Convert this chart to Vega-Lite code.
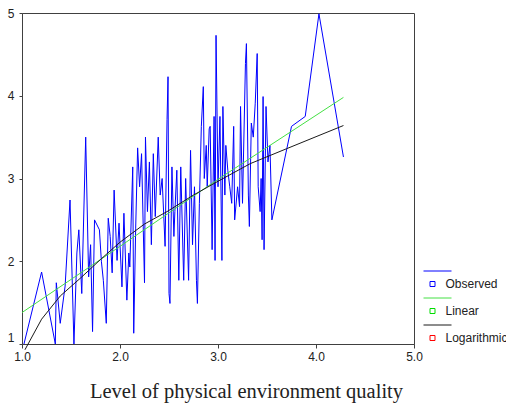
{
  "$schema": "https://vega.github.io/schema/vega-lite/v6.json",
  "width": 392,
  "height": 331,
  "autosize": "none",
  "padding": {"left": 22, "top": 13, "right": 92, "bottom": 64},
  "background": "white",
  "config": {
    "view": {"stroke": "#404040", "strokeWidth": 1},
    "axis": {"grid": false, "domainColor": "#404040", "tickColor": "#404040", "labelFont": "Liberation Sans", "labelFontSize": 12, "labelColor": "#222222"},
    "legend": {"labelFont": "Liberation Sans", "labelFontSize": 12, "labelColor": "#222222", "padding": 0, "offset": 0}
  },
  "datasets": {
    "observed": [
      {"x": 1.02, "y": 1.0, "series": "Observed"},
      {"x": 1.2, "y": 1.87, "series": "Observed"},
      {"x": 1.34, "y": 1.0, "series": "Observed"},
      {"x": 1.35, "y": 1.74, "series": "Observed"},
      {"x": 1.39, "y": 1.25, "series": "Observed"},
      {"x": 1.44, "y": 1.7, "series": "Observed"},
      {"x": 1.49, "y": 2.74, "series": "Observed"},
      {"x": 1.53, "y": 1.0, "series": "Observed"},
      {"x": 1.56, "y": 2.1, "series": "Observed"},
      {"x": 1.58, "y": 2.38, "series": "Observed"},
      {"x": 1.61, "y": 1.61, "series": "Observed"},
      {"x": 1.65, "y": 3.5, "series": "Observed"},
      {"x": 1.68, "y": 1.81, "series": "Observed"},
      {"x": 1.7, "y": 2.2, "series": "Observed"},
      {"x": 1.72, "y": 1.15, "series": "Observed"},
      {"x": 1.74, "y": 2.5, "series": "Observed"},
      {"x": 1.79, "y": 2.38, "series": "Observed"},
      {"x": 1.81, "y": 2.0, "series": "Observed"},
      {"x": 1.83, "y": 1.77, "series": "Observed"},
      {"x": 1.86, "y": 1.25, "series": "Observed"},
      {"x": 1.88, "y": 2.52, "series": "Observed"},
      {"x": 1.9, "y": 2.3, "series": "Observed"},
      {"x": 1.92, "y": 1.86, "series": "Observed"},
      {"x": 1.94, "y": 2.86, "series": "Observed"},
      {"x": 1.97, "y": 2.01, "series": "Observed"},
      {"x": 1.99, "y": 2.46, "series": "Observed"},
      {"x": 2.02, "y": 1.69, "series": "Observed"},
      {"x": 2.04, "y": 2.58, "series": "Observed"},
      {"x": 2.07, "y": 1.53, "series": "Observed"},
      {"x": 2.09, "y": 2.1, "series": "Observed"},
      {"x": 2.1, "y": 1.93, "series": "Observed"},
      {"x": 2.13, "y": 3.14, "series": "Observed"},
      {"x": 2.14, "y": 1.13, "series": "Observed"},
      {"x": 2.16, "y": 2.4, "series": "Observed"},
      {"x": 2.18, "y": 3.37, "series": "Observed"},
      {"x": 2.2, "y": 2.9, "series": "Observed"},
      {"x": 2.22, "y": 3.3, "series": "Observed"},
      {"x": 2.25, "y": 1.74, "series": "Observed"},
      {"x": 2.26, "y": 3.5, "series": "Observed"},
      {"x": 2.28, "y": 2.6, "series": "Observed"},
      {"x": 2.3, "y": 3.2, "series": "Observed"},
      {"x": 2.32, "y": 2.2, "series": "Observed"},
      {"x": 2.34, "y": 3.3, "series": "Observed"},
      {"x": 2.36, "y": 2.54, "series": "Observed"},
      {"x": 2.39, "y": 3.5, "series": "Observed"},
      {"x": 2.41, "y": 2.8, "series": "Observed"},
      {"x": 2.43, "y": 3.0, "series": "Observed"},
      {"x": 2.46, "y": 2.18, "series": "Observed"},
      {"x": 2.48, "y": 3.71, "series": "Observed"},
      {"x": 2.49, "y": 4.23, "series": "Observed"},
      {"x": 2.5, "y": 1.61, "series": "Observed"},
      {"x": 2.51, "y": 1.49, "series": "Observed"},
      {"x": 2.53, "y": 3.14, "series": "Observed"},
      {"x": 2.55, "y": 2.3, "series": "Observed"},
      {"x": 2.56, "y": 2.6, "series": "Observed"},
      {"x": 2.58, "y": 3.1, "series": "Observed"},
      {"x": 2.6, "y": 1.77, "series": "Observed"},
      {"x": 2.62, "y": 3.14, "series": "Observed"},
      {"x": 2.65, "y": 1.77, "series": "Observed"},
      {"x": 2.67, "y": 3.0, "series": "Observed"},
      {"x": 2.7, "y": 1.77, "series": "Observed"},
      {"x": 2.72, "y": 3.34, "series": "Observed"},
      {"x": 2.74, "y": 2.2, "series": "Observed"},
      {"x": 2.76, "y": 2.9, "series": "Observed"},
      {"x": 2.78, "y": 1.77, "series": "Observed"},
      {"x": 2.79, "y": 1.49, "series": "Observed"},
      {"x": 2.81, "y": 2.7, "series": "Observed"},
      {"x": 2.83, "y": 3.63, "series": "Observed"},
      {"x": 2.85, "y": 4.11, "series": "Observed"},
      {"x": 2.86, "y": 3.0, "series": "Observed"},
      {"x": 2.88, "y": 3.4, "series": "Observed"},
      {"x": 2.89, "y": 2.9, "series": "Observed"},
      {"x": 2.91, "y": 3.6, "series": "Observed"},
      {"x": 2.92, "y": 3.63, "series": "Observed"},
      {"x": 2.94, "y": 2.14, "series": "Observed"},
      {"x": 2.96, "y": 3.75, "series": "Observed"},
      {"x": 2.97, "y": 2.01, "series": "Observed"},
      {"x": 2.98, "y": 4.73, "series": "Observed"},
      {"x": 3.0, "y": 2.9, "series": "Observed"},
      {"x": 3.02, "y": 3.75, "series": "Observed"},
      {"x": 3.04, "y": 2.01, "series": "Observed"},
      {"x": 3.05, "y": 3.87, "series": "Observed"},
      {"x": 3.07, "y": 2.8, "series": "Observed"},
      {"x": 3.08, "y": 3.4, "series": "Observed"},
      {"x": 3.1, "y": 3.1, "series": "Observed"},
      {"x": 3.12, "y": 2.9, "series": "Observed"},
      {"x": 3.14, "y": 2.7, "series": "Observed"},
      {"x": 3.16, "y": 3.63, "series": "Observed"},
      {"x": 3.17, "y": 2.5, "series": "Observed"},
      {"x": 3.2, "y": 2.9, "series": "Observed"},
      {"x": 3.22, "y": 2.66, "series": "Observed"},
      {"x": 3.23, "y": 3.87, "series": "Observed"},
      {"x": 3.25, "y": 2.7, "series": "Observed"},
      {"x": 3.28, "y": 4.39, "series": "Observed"},
      {"x": 3.29, "y": 4.63, "series": "Observed"},
      {"x": 3.31, "y": 2.8, "series": "Observed"},
      {"x": 3.32, "y": 2.42, "series": "Observed"},
      {"x": 3.34, "y": 3.67, "series": "Observed"},
      {"x": 3.36, "y": 3.5, "series": "Observed"},
      {"x": 3.38, "y": 3.91, "series": "Observed"},
      {"x": 3.4, "y": 4.51, "series": "Observed"},
      {"x": 3.41, "y": 2.9, "series": "Observed"},
      {"x": 3.43, "y": 2.6, "series": "Observed"},
      {"x": 3.44, "y": 3.0, "series": "Observed"},
      {"x": 3.45, "y": 2.26, "series": "Observed"},
      {"x": 3.46, "y": 3.99, "series": "Observed"},
      {"x": 3.47, "y": 2.14, "series": "Observed"},
      {"x": 3.49, "y": 3.87, "series": "Observed"},
      {"x": 3.51, "y": 3.2, "series": "Observed"},
      {"x": 3.53, "y": 3.4, "series": "Observed"},
      {"x": 3.55, "y": 2.5, "series": "Observed"},
      {"x": 3.75, "y": 3.63, "series": "Observed"},
      {"x": 3.89, "y": 3.75, "series": "Observed"},
      {"x": 4.03, "y": 4.99, "series": "Observed"},
      {"x": 4.28, "y": 3.26, "series": "Observed"}
    ],
    "linear": [
      {"x": 1.0, "y": 1.38, "series": "Linear"},
      {"x": 2.0, "y": 2.18, "series": "Linear"},
      {"x": 3.0, "y": 2.99, "series": "Linear"},
      {"x": 4.28, "y": 3.98, "series": "Linear"}
    ],
    "log": [
      {"x": 1.03, "y": 0.93, "series": "Logarithmic"},
      {"x": 1.2, "y": 1.3, "series": "Logarithmic"},
      {"x": 1.39, "y": 1.58, "series": "Logarithmic"},
      {"x": 1.6, "y": 1.8, "series": "Logarithmic"},
      {"x": 1.8, "y": 2.02, "series": "Logarithmic"},
      {"x": 2.0, "y": 2.23, "series": "Logarithmic"},
      {"x": 2.25, "y": 2.45, "series": "Logarithmic"},
      {"x": 2.48, "y": 2.6, "series": "Logarithmic"},
      {"x": 2.75, "y": 2.8, "series": "Logarithmic"},
      {"x": 2.99, "y": 2.96, "series": "Logarithmic"},
      {"x": 3.33, "y": 3.18, "series": "Logarithmic"},
      {"x": 3.7, "y": 3.36, "series": "Logarithmic"},
      {"x": 4.01, "y": 3.51, "series": "Logarithmic"},
      {"x": 4.28, "y": 3.64, "series": "Logarithmic"}
    ],
    "entries": [
      {"entry": "Observed"},
      {"entry": "Linear"},
      {"entry": "Logarithmic"}
    ]
  },
  "encoding": {
    "x": {"field": "x", "type": "quantitative",
      "scale": {"domain": [1, 5], "nice": false, "zero": false},
      "axis": {"values": [1, 2, 3, 4, 5], "format": ".1f", "tickSize": 4, "labelPadding": 3, "labelFlush": false,
        "title": "Level of physical environment quality", "titleFont": "Liberation Serif", "titleFontSize": 20.5,
        "titleFontWeight": "normal", "titleColor": "#222222", "titleX": 224, "titleY": 53,
        "titleBaseline": "alphabetic", "titleAlign": "center"}},
    "y": {"field": "y", "type": "quantitative",
      "scale": {"domain": [1, 5], "nice": false, "zero": false},
      "axis": {"values": [1, 2, 3, 4, 5], "format": "d", "tickSize": 3, "labelPadding": 5, "title": null, "labelFlush": false,
        "labelBaseline": {"condition": {"test": "datum.value === 1", "value": "bottom"}, "value": "middle"}}}
  },
  "layer": [
    {
      "data": {"name": "observed"},
      "mark": {"type": "line", "strokeWidth": 1, "clip": false},
      "encoding": {"stroke": {"field": "series", "type": "nominal",
        "scale": {"domain": ["Observed", "Linear", "Logarithmic"], "range": ["#0000ff", "#44e044", "#1a1a1a"]},
        "legend": {"orient": "none", "legendX": 402.5, "legendY": 258, "title": null, "symbolType": "M-1.12,-1.04H1.12",
          "symbolSize": 625, "symbolStrokeWidth": 1, "labelExpr": "''", "rowPadding": 6, "direction": "vertical"}}}
    },
    {
      "data": {"name": "linear"},
      "mark": {"type": "line", "strokeWidth": 1, "clip": false},
      "encoding": {"stroke": {"field": "series", "type": "nominal"}}
    },
    {
      "data": {"name": "log"},
      "mark": {"type": "line", "strokeWidth": 1, "clip": false},
      "encoding": {"stroke": {"field": "series", "type": "nominal"}}
    },
    {
      "data": {"name": "entries"},
      "mark": {"type": "point", "opacity": 0, "filled": false},
      "encoding": {
        "x": {"value": 0}, "y": {"value": 0},
        "color": {"field": "entry", "type": "nominal", "sort": ["Observed", "Linear", "Logarithmic"],
          "scale": {"range": ["#0000ff", "#00dd00", "#ff0000"]},
          "legend": {"orient": "none", "legendX": 397.5, "legendY": 258, "title": null,
            "symbolType": "M-0.2,-0.2h0.4v0.4h-0.4z", "symbolSize": 625, "symbolStrokeWidth": 1,
            "symbolOpacity": 1, "symbolFillColor": "transparent", "labelOffset": 0, "rowPadding": 8, "direction": "vertical"}}
      }
    }
  ]
}
